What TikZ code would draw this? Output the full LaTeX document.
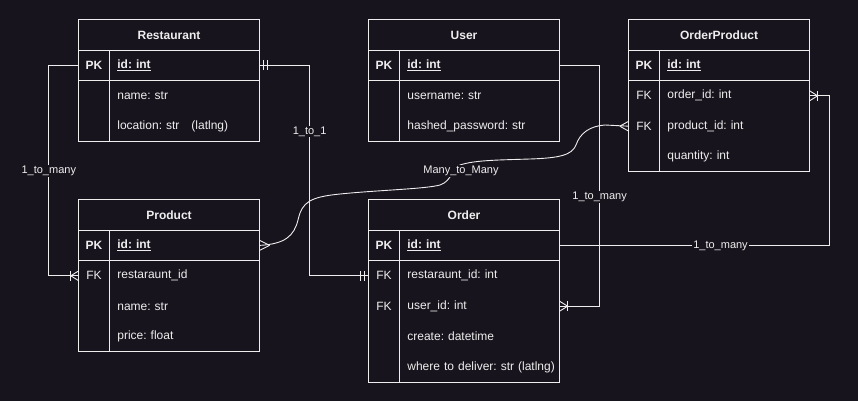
\documentclass[tikz,border=0pt]{standalone}
\usepackage{fontspec}
\setmainfont{Liberation Sans}
\usetikzlibrary{positioning,calc}
\frenchspacing

\definecolor{bgdark}{RGB}{24,20,29}
\definecolor{ink}{RGB}{238,238,238}

% crow's foot (#2 = -1: line comes from the left, 1: from the right)
\newcommand{\tipmany}[3]{\draw[link] ([xshift=#2*#3]#1) -- ([yshift=5pt]#1) ([xshift=#2*#3]#1) -- ([yshift=-5pt]#1);}
\newcommand{\tipbar}[2]{\draw[link] ([xshift=#2,yshift=5pt]#1) -- ([xshift=#2,yshift=-5pt]#1);}
\newcommand{\pkid}{\textbf{\underline{id: int}}}

\begin{document}
\begin{tikzpicture}[x=1pt,y=-1pt]

  \tikzstyle{tframe} = [draw=ink, line width=1.1pt]
  \tikzstyle{link} = [draw=ink, line width=0.9pt]
  \tikzstyle{head} = [minimum height=30pt, inner sep=0pt, text=ink, font={\fontsize{12}{14}\selectfont\bfseries}]
  \tikzstyle{keycell} = [minimum width=30pt, minimum height=30pt, inner sep=0pt, text=ink, font={\fontsize{12}{14}\selectfont}]
  \tikzstyle{pkcell} = [keycell, font={\fontsize{12}{14}\selectfont\bfseries}]
  \tikzstyle{field} = [minimum height=30pt, inner xsep=8pt, inner ysep=0pt, text width=134pt, align=left, text=ink, font={\fontsize{12}{14}\selectfont}]
  \tikzstyle{wfield} = [field, text width=144pt]
  \tikzstyle{lbl} = [fill=bgdark, inner sep=1pt, text=ink, font={\fontsize{11}{13}\selectfont}]

  \fill[bgdark] (0,0) rectangle (858,401);
  \useasboundingbox (0,0) rectangle (858,401);

  % Restaurant
  \node[head, minimum width=180pt] (restH) at (169,35) {Restaurant};
  \node[pkcell, anchor=north west] (restPK) at (restH.south west) {PK};
  \node[field, right=0pt of restPK] (restId) {\pkid};
  \node[keycell, below=0pt of restPK] (restK1) {};
  \node[field, right=0pt of restK1] (restName) {name: str};
  \node[keycell, below=0pt of restK1] (restK2) {};
  \node[field, right=0pt of restK2] (restLoc) {location: str\ \ \ (latlng)};
  \draw[tframe] (restH.north west) rectangle (restLoc.south east);
  \draw[tframe] (restH.south west) -- (restH.south east);
  \draw[tframe] (restPK.south west) -- (restId.south east);
  \draw[tframe] (restPK.north east) -- (restK2.south east);

  % Product
  \node[head, minimum width=180pt] (prodH) at (169,215) {Product};
  \node[pkcell, anchor=north west] (prodPK) at (prodH.south west) {PK};
  \node[field, right=0pt of prodPK] (prodId) {\pkid};
  \node[keycell, below=0pt of prodPK] (prodFK) {FK};
  \node[field, right=0pt of prodFK] (prodRest) {restaraunt\_id};
  \node[keycell, below=0pt of prodFK] (prodK2) {};
  \node[field, right=0pt of prodK2] (prodName) {name: str};
  \node[keycell, below=0pt of prodK2] (prodK3) {};
  \node[field, right=0pt of prodK3] (prodPrice) {price: float};
  \draw[tframe] (prodH.north west) rectangle (prodPrice.south east);
  \draw[tframe] (prodH.south west) -- (prodH.south east);
  \draw[tframe] (prodPK.south west) -- (prodId.south east);
  \draw[tframe] (prodPK.north east) -- (prodK3.south east);

  % User
  \node[head, minimum width=190pt] (userH) at (464,35) {User};
  \node[pkcell, anchor=north west] (userPK) at (userH.south west) {PK};
  \node[wfield, right=0pt of userPK] (userId) {\pkid};
  \node[keycell, below=0pt of userPK] (userK1) {};
  \node[wfield, right=0pt of userK1] (userName) {username: str};
  \node[keycell, below=0pt of userK1] (userK2) {};
  \node[wfield, right=0pt of userK2] (userPw) {hashed\_password: str};
  \draw[tframe] (userH.north west) rectangle (userPw.south east);
  \draw[tframe] (userH.south west) -- (userH.south east);
  \draw[tframe] (userPK.south west) -- (userId.south east);
  \draw[tframe] (userPK.north east) -- (userK2.south east);

  % Order
  \node[head, minimum width=190pt] (ordH) at (464,215) {Order};
  \node[pkcell, anchor=north west] (ordPK) at (ordH.south west) {PK};
  \node[wfield, right=0pt of ordPK] (ordId) {\pkid};
  \node[keycell, below=0pt of ordPK] (ordRK) {FK};
  \node[wfield, right=0pt of ordRK] (ordRest) {restaraunt\_id: int};
  \node[keycell, below=0pt of ordRK] (ordUK) {FK};
  \node[wfield, right=0pt of ordUK] (ordUser) {user\_id: int};
  \node[keycell, below=0pt of ordUK] (ordK3) {};
  \node[wfield, right=0pt of ordK3] (ordCreate) {create: datetime};
  \node[keycell, below=0pt of ordK3] (ordK4) {};
  \node[wfield, right=0pt of ordK4] (ordWhere) {\mbox{where to deliver: str (latlng)}};
  \draw[tframe] (ordH.north west) rectangle (ordWhere.south east);
  \draw[tframe] (ordH.south west) -- (ordH.south east);
  \draw[tframe] (ordPK.south west) -- (ordId.south east);
  \draw[tframe] (ordPK.north east) -- (ordK4.south east);

  % OrderProduct
  \node[head, minimum width=180pt] (opH) at (719,35) {OrderProduct};
  \node[pkcell, anchor=north west] (opPK) at (opH.south west) {PK};
  \node[field, right=0pt of opPK] (opId) {\pkid};
  \node[keycell, below=0pt of opPK] (opOK) {FK};
  \node[field, right=0pt of opOK] (opOrder) {order\_id: int};
  \node[keycell, below=0pt of opOK] (opProdK) {FK};
  \node[field, right=0pt of opProdK] (opProd) {product\_id: int};
  \node[keycell, below=0pt of opProdK] (opK3) {};
  \node[field, right=0pt of opK3] (opQty) {quantity: int};
  \draw[tframe] (opH.north west) rectangle (opQty.south east);
  \draw[tframe] (opH.south west) -- (opH.south east);
  \draw[tframe] (opPK.south west) -- (opId.south east);
  \draw[tframe] (opPK.north east) -- (opK3.south east);

  % relations
  \draw[link] (restPK.west) -- ++(-30,0) |- node[lbl, pos=0.25] (l1) {1\_to\_many} (prodFK.west);
  \tipmany{prodFK.west}{-1}{8pt}
  \tipbar{prodFK.west}{-8pt}

  \draw[link] (restId.east) -- ++(50,0) |- node[lbl, pos=0.157] (l2) {1\_to\_1} (ordRK.west);
  \tipbar{restId.east}{4pt}
  \tipbar{restId.east}{8pt}
  \tipbar{ordRK.west}{-4pt}
  \tipbar{ordRK.west}{-8pt}

  \draw[link] (userId.east) -- ++(40,0) |- node[lbl, pos=0.273] (l3) {1\_to\_many} (ordUser.east);
  \tipmany{ordUser.east}{1}{8pt}
  \tipbar{ordUser.east}{8pt}

  \draw[link] (ordId.east) -- node[lbl, pos=0.596] (l4) {1\_to\_many} ++(270,0) |- (opOrder.east);
  \tipmany{opOrder.east}{1}{8pt}
  \tipbar{opOrder.east}{8pt}

  \draw[link] (prodId.east) .. controls (285,244) and (294,236) .. (298,220)
    .. controls (302,202) and (310,197) .. (340,194)
    .. controls (380,190) and (425,189) .. (440,185)
    .. controls (452,181) and (452,168) .. (460,165)
    .. controls (475,160) and (500,160) .. (530,159)
    .. controls (560,158) and (572,155) .. (576,145)
    .. controls (580,133) and (590,126) .. (605,125)
    -- (opProdK.west);
  \node[lbl] (l5) at (461,171) {Many\_to\_Many};
  \tipmany{prodId.east}{1}{10pt}
  \tipmany{opProdK.west}{-1}{9pt}

\end{tikzpicture}
\end{document}
